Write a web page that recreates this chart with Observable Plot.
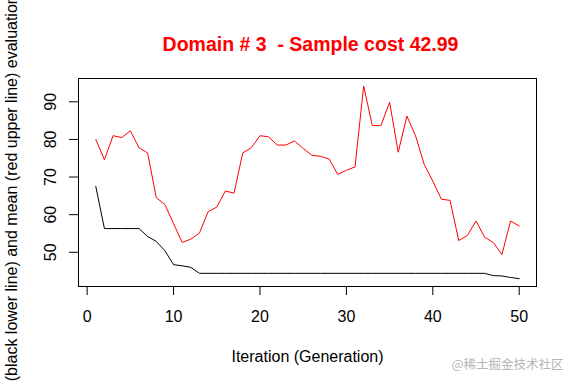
<!DOCTYPE html>
<html>
<head>
<meta charset="utf-8">
<script src="https://cdn.jsdelivr.net/npm/d3@7"></script>
<script src="https://cdn.jsdelivr.net/npm/@observablehq/plot@0.6"></script>
<style>
  html, body { margin: 0; padding: 0; background: #fff; }
  #chart { width: 576px; height: 384px; overflow: hidden; }
</style>
</head>
<body>
<div id="chart"></div>
<script>
const generation = [1,2,3,4,5,6,7,8,9,10,11,12,13,14,15,16,17,18,19,20,21,22,23,24,25,26,27,28,29,30,31,32,33,34,35,36,37,38,39,40,41,42,43,44,45,46,47,48,49,50];
const meanEval = [80.0,74.6,81.0,80.5,82.3,77.8,76.4,64.5,62.7,57.6,
                  52.6,53.5,55.1,60.8,62.0,66.3,65.7,76.4,77.8,81.0,
                  80.7,78.5,78.5,79.6,77.6,75.8,75.5,74.8,70.7,71.8,
                  72.7,94.2,83.7,83.7,89.9,76.6,86.2,81.0,73.4,68.9,
                  64.1,63.8,53.1,54.5,58.3,54.0,52.6,49.4,58.3,57.0];
const bestEval = [67.5,56.3,56.3,56.3,56.3,56.3,54.2,52.9,50.4,46.7,
                  46.4,46.0,44.4,44.4,44.4,44.4,44.4,44.4,44.4,44.4,
                  44.4,44.4,44.4,44.4,44.4,44.4,44.4,44.4,44.4,44.4,
                  44.4,44.4,44.4,44.4,44.4,44.4,44.4,44.4,44.4,44.4,
                  44.4,44.4,44.4,44.4,44.4,44.4,43.8,43.7,43.3,42.99];
const xTicks = [0,10,20,30,40,50];
const yTicks = [50,60,70,80,90];
const titleText = "Domain # 3 \u00a0- Sample cost 42.99";
const xLabel = "Iteration (Generation)";
const yLabel = "Best (black lower line) and mean (red upper line) evaluation";
const watermark = "@稀土掘金技术社区";

const rows = generation.map((g, i) => ({gen: g, mean: meanEval[i], best: bestEval[i]}));

const font = "'Liberation Sans', Arial, sans-serif";

const chart = Plot.plot({
  width: 576,
  height: 384,
  marginLeft: 78,
  marginRight: 40,
  marginTop: 78,
  marginBottom: 98,
  style: {fontFamily: font, background: "#fff", color: "#000"},
  x: {domain: [-1.0, 52.0]},
  y: {domain: [40.9, 96.2]},
  marks: [
    Plot.frame({stroke: "#000", strokeWidth: 1}),
    Plot.axisX({ticks: xTicks, tickSize: 9, tickPadding: 15, fontSize: 16, label: null, stroke: "#000", fill: "#000"}),
    Plot.axisY({ticks: yTicks, tickSize: 9, tickFormat: () => "", label: null, stroke: "#000"}),
    Plot.text(yTicks, {y: d => d, text: d => String(d), frameAnchor: "left", dx: -28, rotate: -90,
      textAnchor: "middle", lineAnchor: "middle", fontSize: 16, fill: "#000"}),
    Plot.line(rows, {x: "gen", y: "best", stroke: "#000", strokeWidth: 1}),
    Plot.line(rows, {x: "gen", y: "mean", stroke: "#ff0000", strokeWidth: 1}),
    Plot.text([titleText], {frameAnchor: "top", dx: 3, dy: -28, lineAnchor: "bottom", textAnchor: "middle",
      fontSize: 19.5, fontWeight: "bold", fill: "#ff0000"}),
    Plot.text([xLabel], {frameAnchor: "bottom", dy: 75, lineAnchor: "bottom", textAnchor: "middle",
      fontSize: 16, fill: "#000"}),
    Plot.text([yLabel], {frameAnchor: "left", dx: -62, dy: 24, rotate: -90, lineAnchor: "bottom",
      textAnchor: "middle", fontSize: 16, fill: "#000"}),
    Plot.text([watermark], {frameAnchor: "bottom-right", dx: 27, dy: 82, lineAnchor: "bottom", textAnchor: "end",
      fontSize: 12.5, fill: "#b5b5b5", fontFamily: "'Noto Sans CJK SC', sans-serif"})
  ]
});
document.getElementById("chart").appendChild(chart);
</script>
</body>
</html>
